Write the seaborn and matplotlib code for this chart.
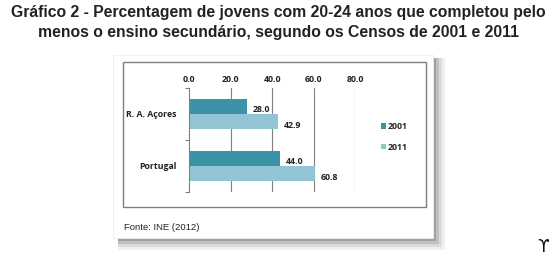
import numpy as np
import pandas as pd
import matplotlib
matplotlib.use("Agg")
import matplotlib.pyplot as plt
from matplotlib.patches import Rectangle
import seaborn as sns

# ---------------- dados ----------------
regioes = ["R. A. Açores", "Portugal"]
anos = ["2001", "2011"]
valores_2001 = [28.0, 44.0]
valores_2011 = [42.9, 60.8]
ticks_x = [0, 20, 40, 60, 80]

titulo = ("Gráfico 2 - Percentagem de jovens com 20-24 anos que completou pelo\n"
          "menos o ensino secundário, segundo os Censos de 2001 e 2011")
fonte = "Fonte: INE (2012)"
cores = {"2001": "#3c93a8", "2011": "#93c4d5"}

df = pd.DataFrame({
    "regiao": regioes * 2,
    "ano": [anos[0]] * len(regioes) + [anos[1]] * len(regioes),
    "valor": valores_2001 + valores_2011,
})

sns.set_theme(style="white")
plt.rcParams["font.family"] = ["Liberation Sans", "DejaVu Sans"]
fam_graf = ["Open Sans", "DejaVu Sans"]

W, H = 556, 265
fig = plt.figure(figsize=(W / 100, H / 100), dpi=100)
fig.patch.set_facecolor("white")


def px(x0, y0, x1, y1):
    # caixa em pixels (origem em cima à esquerda) -> coords da figura
    return [x0 / W, 1 - y1 / H, (x1 - x0) / W, (y1 - y0) / H]


# sombra suave da caixa (direita e baixo)
for d, a in zip([12, 9, 6, 3], [0.08, 0.12, 0.18, 0.26]):
    fig.patches.append(Rectangle((118 / W, 1 - (238 + d) / H),
                                 (315 + d) / W, (180 + d) / H,
                                 transform=fig.transFigure, facecolor="#4a4a4a",
                                 alpha=a, edgecolor="none", zorder=0))
# caixa branca
fig.patches.append(Rectangle((113 / W, 1 - 238 / H), 320 / W, 183 / H,
                             transform=fig.transFigure, facecolor="white",
                             edgecolor="#eeeeee", lw=0.6, zorder=1))
# moldura do gráfico
fig.patches.append(Rectangle((123 / W, 1 - 207 / H), 303 / W, 145 / H,
                             transform=fig.transFigure, facecolor="none",
                             edgecolor="#7f7f7f", lw=1.0, zorder=2))

ax = fig.add_axes(px(189.3, 88, 355, 192))
ax.set_zorder(3)
ax.patch.set_alpha(0)

sns.barplot(data=df, y="regiao", x="valor", hue="ano", orient="h",
            palette=cores, width=0.58, gap=0, saturation=1,
            edgecolor="none", ax=ax, legend=True)

ax.set_xlim(0, 80)
ax.set_ylim(1.5, -0.5)
ax.xaxis.tick_top()
ax.set_xticks(ticks_x)
ax.set_xticklabels([f"{t:.1f}" for t in ticks_x])
ax.tick_params(axis="x", length=0, pad=3, labelsize=6.3)
for lb in ax.get_xticklabels():
    lb.set_family(fam_graf)
    lb.set_fontweight("bold")
    lb.set_color("#222222")

ax.set_yticks([0, 1])
ax.set_yticklabels(regioes)
ax.tick_params(axis="y", length=0, pad=9, labelsize=6.3)
for lb in ax.get_yticklabels():
    lb.set_family(fam_graf)
    lb.set_fontweight("bold")
    lb.set_color("#222222")
ax.set_yticks([-0.5, 0.5, 1.5], minor=True)
ax.tick_params(axis="y", which="minor", length=3, color="#7f7f7f", width=0.8, left=True)

ax.set_xlabel("")
ax.set_ylabel("")
for x in ticks_x[1:]:
    ax.axvline(x, color="#7f7f7f", lw=0.8, zorder=0)
for s in ["top", "right", "bottom"]:
    ax.spines[s].set_visible(False)
ax.spines["left"].set_color("#7f7f7f")
ax.spines["left"].set_linewidth(0.8)

# rótulos de valor (ligeiramente abaixo do centro da barra)
for cont in ax.containers:
    txts = ax.bar_label(cont, fmt="%.1f", padding=4, fontsize=6.3, fontweight="bold",
                        color="#222222", family=fam_graf)
    for t in txts:
        t.xyann = (4, -2.5)

# legenda
leg = ax.legend(loc="center left", bbox_to_anchor=(1.11, 0.53), frameon=False,
                handlelength=0.6, handleheight=0.6, handletextpad=0.2,
                labelspacing=1.3, prop={"family": fam_graf,
                                        "weight": "bold", "size": 6.3})

fig.text(0.5, 1 - 22.5 / H, titulo, ha="center", va="center", fontsize=11.3,
         fontweight="bold", color="#222222", linespacing=1.5)
fig.text(124 / W, 1 - 228 / H, fonte, ha="left", va="center", fontsize=6.8,
         color="#222222", zorder=4)
fig.text(543 / W, 1 - 247 / H, "ϒ", ha="center", va="center", fontsize=12,
         family=["DejaVu Sans"], color="#111111")

fig.savefig("out.png", dpi=100)
